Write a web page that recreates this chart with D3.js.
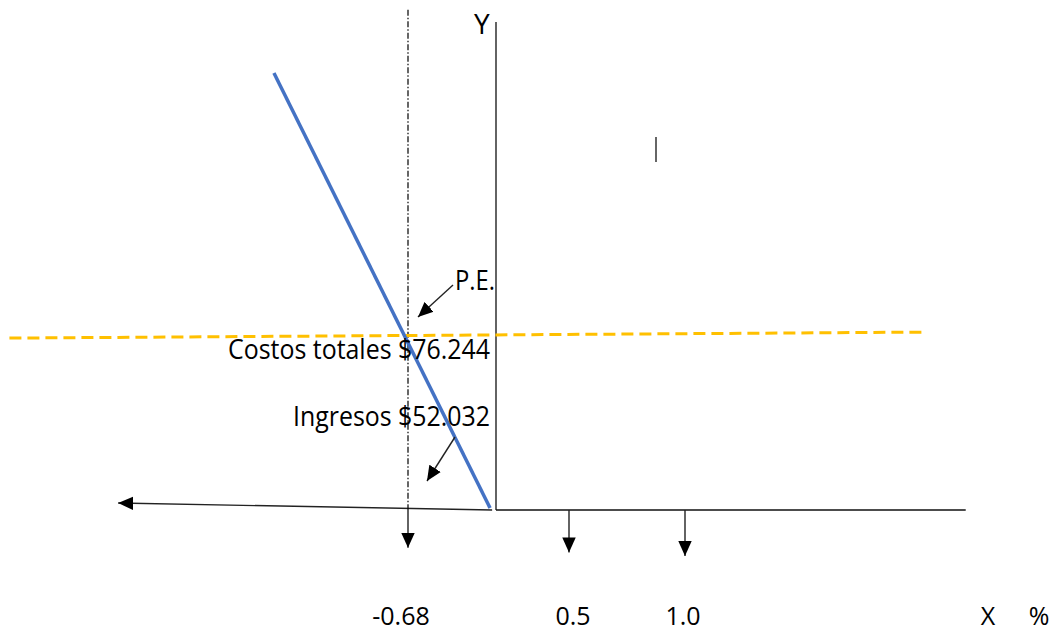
<!DOCTYPE html>
<html><head><meta charset="utf-8">
<script src="https://cdn.jsdelivr.net/npm/d3@7"></script>
<style>body{margin:0;background:#fff}svg{display:block}text{font-family:"Open Sans",sans-serif;fill:#000}</style>
</head><body><svg id="c" width="1055" height="632"></svg>
<script>
// ---- data ----
const xTicks = [-0.68, 0.5, 1.0];
const xTickLabels = ["-0.68", "0.5", "1.0"];
const peX = -0.68;
const costosTotales = 76.244;
const ingresos = 52.032;
const ingresosLine = [{x: -1.716, y: 190.4}, {x: -0.046, y: 0.9}];
const costosLine = [{x: -3.76, y: 74.9}, {x: 2.03, y: 77.5}];
const negAxis = [{x: -0.03, y: 0}, {x: -2.92, y: 3.05}];
const axisXMax = 2.21, axisYMax = 212.6, guideTop = 217.9;
const tickArrowEnds = [-16.5, -18.5, -20];
const strayMark = {x: 0.875, y0: 162.5, y1: 151.6};
const labels = {y: "Y", x: "X", pct: "%", pe: "P.E.",
  costos: "Costos totales $76.244", ingresos: "Ingresos $52.032"};

// ---- scales ----
const x = d3.scaleLinear().domain([-0.68, 0, 0.5, 1.0]).range([408, 496, 569, 685]);
const y = d3.scaleLinear().domain([0, costosTotales]).range([510, 335]);

const svg = d3.select("#c");
const defs = svg.append("defs");
defs.append("marker").attr("id", "ah").attr("markerUnits", "userSpaceOnUse")
  .attr("viewBox", "0 0 10 10").attr("refX", 10).attr("refY", 5)
  .attr("markerWidth", 15).attr("markerHeight", 15).attr("orient", "auto")
  .attr("preserveAspectRatio", "none")
  .append("path").attr("d", "M0,0.5L10,5L0,9.5Z").attr("fill", "#000");

const line = d3.line().x(d => x(d.x)).y(d => y(d.y));

// axes
svg.append("line").attr("x1", x(0)).attr("x2", x(0)).attr("y1", y(0)).attr("y2", y(axisYMax))
  .attr("stroke", "#222").attr("stroke-width", 1.4);
svg.append("line").attr("x1", x(0)).attr("x2", x(axisXMax)).attr("y1", y(0)).attr("y2", y(0))
  .attr("stroke", "#111").attr("stroke-width", 1.6);
svg.append("path").attr("d", line(negAxis)).attr("stroke", "#222").attr("stroke-width", 1.4)
  .attr("fill", "none").attr("marker-end", "url(#ah)");

// P.E. guide line (dash-dot)
svg.append("line").attr("x1", x(peX)).attr("x2", x(peX)).attr("y1", y(guideTop)).attr("y2", y(0))
  .attr("stroke", "#000").attr("stroke-width", 1.2).attr("stroke-dasharray", "6,2,1.5,2");

// tick arrows
svg.selectAll(".ta").data(xTicks).join("line").attr("class", "ta")
  .attr("x1", d => x(d)).attr("x2", d => x(d))
  .attr("y1", y(0)).attr("y2", (d, i) => y(tickArrowEnds[i]))
  .attr("stroke", "#222").attr("stroke-width", 1.4).attr("marker-end", "url(#ah)");

// tick labels
const labelShift = [-7, 4, -2];
svg.selectAll(".tl").data(xTicks).join("text").attr("class", "tl")
  .attr("x", (d, i) => x(d) + labelShift[i]).attr("y", 625).attr("text-anchor", "middle")
  .attr("font-size", 25).text((d, i) => xTickLabels[i]);

// costos dashed line
svg.append("path").attr("d", line(costosLine)).attr("stroke", "#FFC000").attr("stroke-width", 3)
  .attr("fill", "none").attr("stroke-dasharray", "12,6");

// ingresos blue line
svg.append("path").attr("d", line(ingresosLine)).attr("stroke", "#4472C4").attr("stroke-width", 3.5)
  .attr("fill", "none");

// stray mark
svg.append("line").attr("x1", x(strayMark.x)).attr("x2", x(strayMark.x))
  .attr("y1", y(strayMark.y0)).attr("y2", y(strayMark.y1)).attr("stroke", "#333").attr("stroke-width", 1.5);

// labels
svg.append("text").attr("x", x(0) - 22).attr("y", 34).attr("font-size", 28).text(labels.y);
svg.append("text").attr("x", 988).attr("y", 625).attr("text-anchor", "middle").attr("font-size", 25).text(labels.x);
svg.append("text").attr("x", 1039).attr("y", 625).attr("text-anchor", "middle").attr("font-size", 25).text(labels.pct);
svg.append("text").attr("x", 455).attr("y", 290).attr("font-size", 27)
  .attr("textLength", 40).attr("lengthAdjust", "spacingAndGlyphs").text(labels.pe);
svg.append("text").attr("x", 228).attr("y", y(costosTotales) + 24).attr("font-size", 27)
  .attr("textLength", 262).attr("lengthAdjust", "spacingAndGlyphs").text(labels.costos);
svg.append("text").attr("x", 293).attr("y", 426).attr("font-size", 27)
  .attr("textLength", 197).attr("lengthAdjust", "spacingAndGlyphs").text(labels.ingresos);

// annotation arrows
svg.append("line").attr("x1", 453).attr("y1", 285).attr("x2", 418).attr("y2", 317)
  .attr("stroke", "#222").attr("stroke-width", 1.4).attr("marker-end", "url(#ah)");
svg.append("line").attr("x1", 455).attr("y1", 437).attr("x2", 427).attr("y2", 481)
  .attr("stroke", "#222").attr("stroke-width", 1.4).attr("marker-end", "url(#ah)");
</script></body></html>
